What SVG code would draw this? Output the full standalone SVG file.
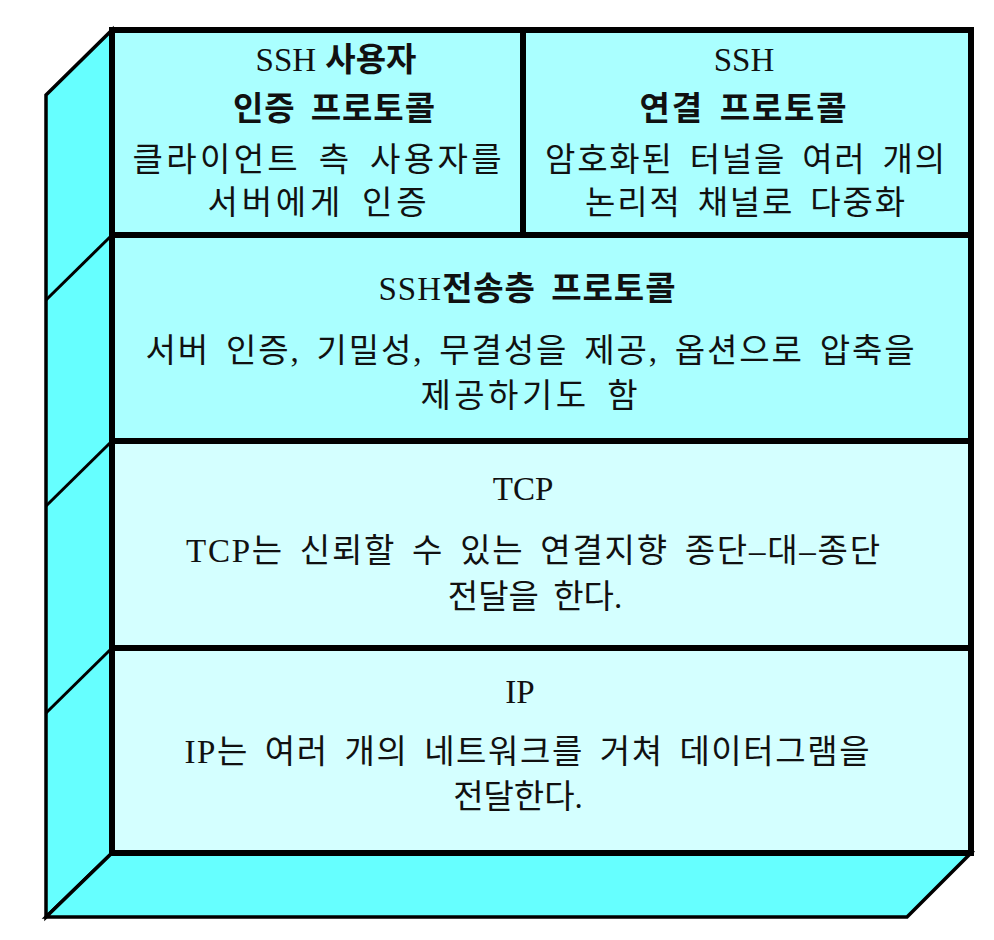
<svg xmlns="http://www.w3.org/2000/svg" width="994" height="940" viewBox="0 0 994 940">
  <style>
    .side { fill: #66FFFF; stroke: #000; stroke-width: 3.5; stroke-linejoin: miter; }
    .edge { fill: none; stroke: #000; stroke-width: 3; }
    .dark { fill: #AAFFFF; stroke: #000; stroke-width: 6; }
    .light { fill: #D4FFFF; stroke: #000; stroke-width: 6; }
    text { font-family: "Liberation Serif", "Noto Sans CJK KR", serif; font-size: 33px; fill: #111; text-anchor: middle; word-spacing: 6px; }
    .b { font-weight: bold; }
    .n { font-weight: normal; }
  </style>
  <rect width="994" height="940" fill="#FFFFFF"/>
  <g id="box-sides">
    <polygon class="side" points="46,95 112,30 112,853 46,917"/>
    <polygon class="side" points="46,917 112,853 971,853 907,917"/>
    <line class="edge" x1="112" y1="235" x2="46" y2="300"/>
    <line class="edge" x1="112" y1="441" x2="46" y2="506"/>
    <line class="edge" x1="112" y1="648" x2="46" y2="713"/>
  </g>
  <g id="ssh-user-auth">
    <rect class="dark" x="112" y="30" width="411" height="205"/>
    <text x="336" y="71" class="b" style="word-spacing:1px"><tspan class="n">SSH</tspan> 사용자</text>
    <text x="334" y="120" class="b" textLength="202" lengthAdjust="spacing">인증 프로토콜</text>
    <text x="317" y="171" textLength="369" lengthAdjust="spacing">클라이언트 측 사용자를</text>
    <text x="317" y="214" textLength="219" lengthAdjust="spacing">서버에게 인증</text>
  </g>
  <g id="ssh-connection">
    <rect class="dark" x="523" y="30" width="448" height="205"/>
    <text x="744" y="71">SSH</text>
    <text x="743" y="120" class="b" textLength="207" lengthAdjust="spacing">연결 프로토콜</text>
    <text x="745" y="171" textLength="400" lengthAdjust="spacing">암호화된 터널을 여러 개의</text>
    <text x="745" y="214" textLength="320" lengthAdjust="spacing">논리적 채널로 다중화</text>
  </g>
  <g id="ssh-transport">
    <rect class="dark" x="112" y="235" width="859" height="206"/>
    <text x="527" y="300" class="b" textLength="297" lengthAdjust="spacing"><tspan class="n">SSH</tspan>전송층 프로토콜</text>
    <text x="530" y="362" textLength="769" lengthAdjust="spacing">서버 인증, 기밀성, 무결성을 제공, 옵션으로 압축을</text>
    <text x="529" y="407" textLength="217" lengthAdjust="spacing">제공하기도 함</text>
  </g>
  <g id="tcp">
    <rect class="light" x="112" y="441" width="859" height="207"/>
    <text x="523" y="500">TCP</text>
    <text x="533" y="562" textLength="694" lengthAdjust="spacing">TCP는 신뢰할 수 있는 연결지향 종단–대–종단</text>
    <text x="535" y="608">전달을 한다.</text>
  </g>
  <g id="ip">
    <rect class="light" x="112" y="648" width="859" height="205"/>
    <text x="520" y="703">IP</text>
    <text x="527" y="763" textLength="685" lengthAdjust="spacing">IP는 여러 개의 네트워크를 거쳐 데이터그램을</text>
    <text x="518" y="808">전달한다.</text>
  </g>
</svg>
